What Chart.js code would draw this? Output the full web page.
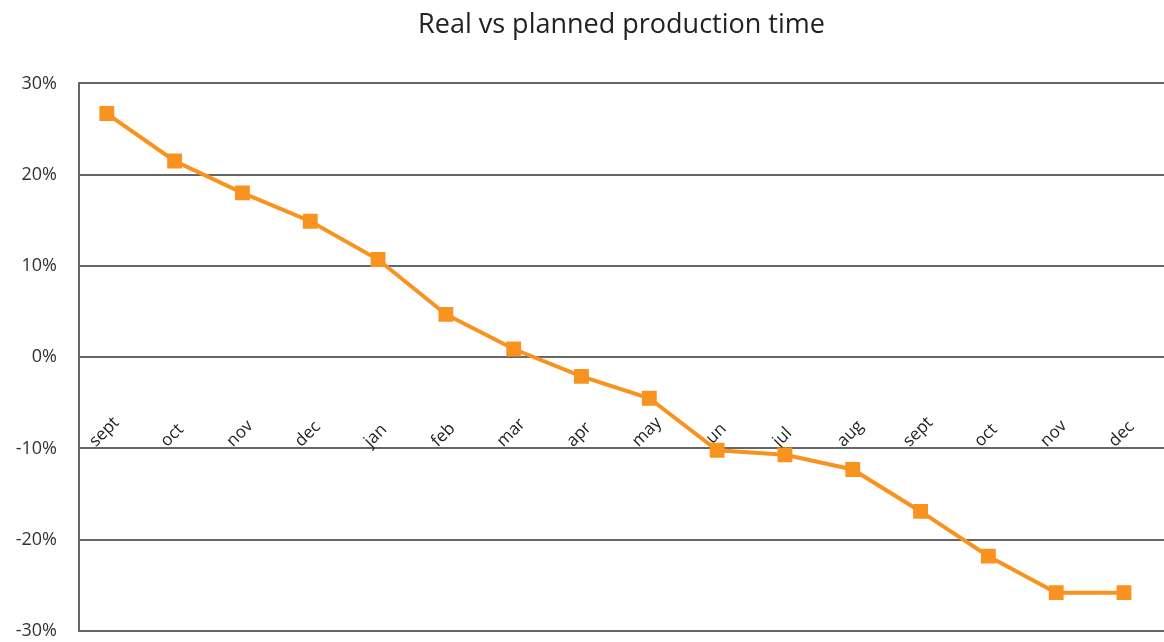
<!DOCTYPE html>
<html>
<head>
<meta charset="utf-8">
<title>Real vs planned production time</title>
<script src="https://cdn.jsdelivr.net/npm/chart.js@4.4.1/dist/chart.umd.min.js"></script>
<style>
  html, body { margin: 0; padding: 0; background: #fff; overflow: hidden; }
  canvas { display: block; }
</style>
</head>
<body>
<canvas id="chart" width="1164" height="642"></canvas>
<script>
const months = ['sept', 'oct', 'nov', 'dec', 'jan', 'feb', 'mar', 'apr', 'may', 'jun', 'jul', 'aug', 'sept', 'oct', 'nov', 'dec'];
const deviation = [26.7, 21.5, 18.0, 14.9, 10.7, 4.7, 0.9, -2.1, -4.5, -10.2, -10.7, -12.3, -16.9, -21.8, -25.8, -25.8];
const yTicks = [-30, -20, -10, 0, 10, 20, 30];

const orange = '#F7931E';
const gridGray = '#666666';

// month labels sit on the -10% line, rotated up to the right
const monthLabels = {
    id: 'monthLabels',
    beforeDatasetsDraw(chart) {
        const { ctx, scales: { x, y } } = chart;
        const base = y.getPixelForValue(-10) - 1;
        ctx.save();
        ctx.font = '17px "Open Sans"';
        ctx.fillStyle = '#222';
        ctx.textAlign = 'left';
        ctx.textBaseline = 'alphabetic';
        months.forEach((m, i) => {
            const w = ctx.measureText(m).width;
            const px = x.getPixelForValue(i);
            ctx.save();
            ctx.translate(px - w * 0.3536 + 1, base);
            ctx.rotate(-Math.PI / 4);
            ctx.fillText(m, 0, 0);
            ctx.restore();
        });
        ctx.restore();
    }
};

const ctx = document.getElementById('chart').getContext('2d');

new Chart(ctx, {
    type: 'line',
    data: {
        datasets: [{
            label: 'Real vs planned',
            data: months.map((m, i) => ({ x: i, y: deviation[i] })),
            borderColor: orange,
            backgroundColor: orange,
            borderWidth: 4,
            pointStyle: 'rect',
            pointRadius: 10.5,
            pointBorderWidth: 0,
            pointBackgroundColor: orange,
            tension: 0
        }]
    },
    options: {
        responsive: false,
        animation: false,
        devicePixelRatio: 1,
        layout: { autoPadding: false, padding: { left: 0, right: 0, top: 0, bottom: 11 } },
        plugins: {
            legend: { display: false },
            tooltip: { enabled: false },
            title: {
                display: true,
                text: 'Real vs planned production time',
                fullSize: false,
                color: '#222',
                font: { family: 'Open Sans', size: 27, weight: 'normal' },
                padding: { top: 9, bottom: 42 }
            }
        },
        scales: {
            x: {
                type: 'linear',
                display: false,
                min: -0.41,
                max: 15.59
            },
            y: {
                min: yTicks[0],
                max: yTicks[yTicks.length - 1],
                afterFit: scale => {
                    scale.width = 79;
                    scale.paddingTop = 0;
                    scale.paddingBottom = 0;
                },
                ticks: {
                    stepSize: yTicks[1] - yTicks[0],
                    padding: 22,
                    color: '#333',
                    font: { family: 'Open Sans', size: 18 },
                    callback: v => v + '%'
                },
                grid: {
                    color: gridGray,
                    lineWidth: 2,
                    drawTicks: false
                },
                border: { color: gridGray, width: 2 }
            }
        }
    },
    plugins: [monthLabels]
});
</script>
</body>
</html>
